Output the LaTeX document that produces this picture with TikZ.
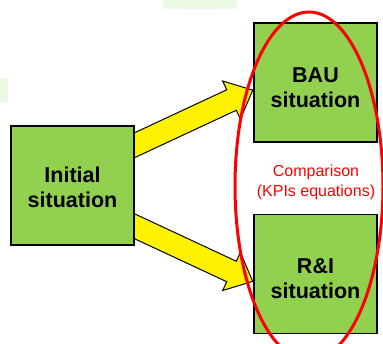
\documentclass[tikz,border=0pt]{standalone}
\usepackage{fontspec}
\setmainfont{Liberation Sans}
\definecolor{boxgreen}{RGB}{146,208,80}
\definecolor{paleg}{RGB}{236,250,228}
\tikzset{
  sitbox/.style={draw=black, line width=1.2pt, fill=boxgreen, minimum width=123pt, minimum height=119pt, inner sep=0pt},
  sittext/.style={align=center, font=\fontsize{21.5}{25}\selectfont\bfseries, inner sep=0pt},
  bigarrow/.style={draw=black, line width=1pt, fill=yellow, line join=miter},
  redtext/.style={align=center, text=red, font=\fontsize{16}{20}\selectfont, inner sep=0pt},
  ring/.style={draw=red, line width=3pt}
}
\begin{document}
\begin{tikzpicture}[x=1pt,y=1pt]
\useasboundingbox (0,0) rectangle (383,343);
\fill[paleg] (163,334) rectangle (237,343);
\fill[paleg] (0,241) rectangle (8,265);
\coordinate (up0) at (134,197.5);
\coordinate (lo0) at (134,117);
\begin{scope}[shift={(up0)}, rotate=25]
\draw[bigarrow] (-12,-11.3) -- (107.6,-11.3) -- (107.6,-21) -- (131,0) -- (107.6,21) -- (107.6,11.3) -- (-12,11.3) -- cycle;
\end{scope}
\begin{scope}[shift={(lo0)}, rotate=-25]
\draw[bigarrow] (-12,-11.3) -- (107.6,-11.3) -- (107.6,-21) -- (131,0) -- (107.6,21) -- (107.6,11.3) -- (-12,11.3) -- cycle;
\end{scope}
\node[sitbox] (init) at (72.5,157.5) {};
\node[sitbox] (bau) at (315.5,260.5) {};
\node[sitbox] (rni) at (315.5,69) {};
\node[sittext] (initt) at ([yshift=-2]init.center) {Initial\\situation};
\node[sittext] (baut) at ([yshift=-5]bau.center) {BAU\\situation};
\node[sittext] (rnit) at ([yshift=-5]rni.center) {R\&I\\situation};
\coordinate (ec) at (309,157);
\draw[ring] (ec) ellipse [x radius=74, y radius=174];
\node[redtext] (cmp) at (316,161) {Comparison\\(KPIs equations)};
\end{tikzpicture}
\end{document}
